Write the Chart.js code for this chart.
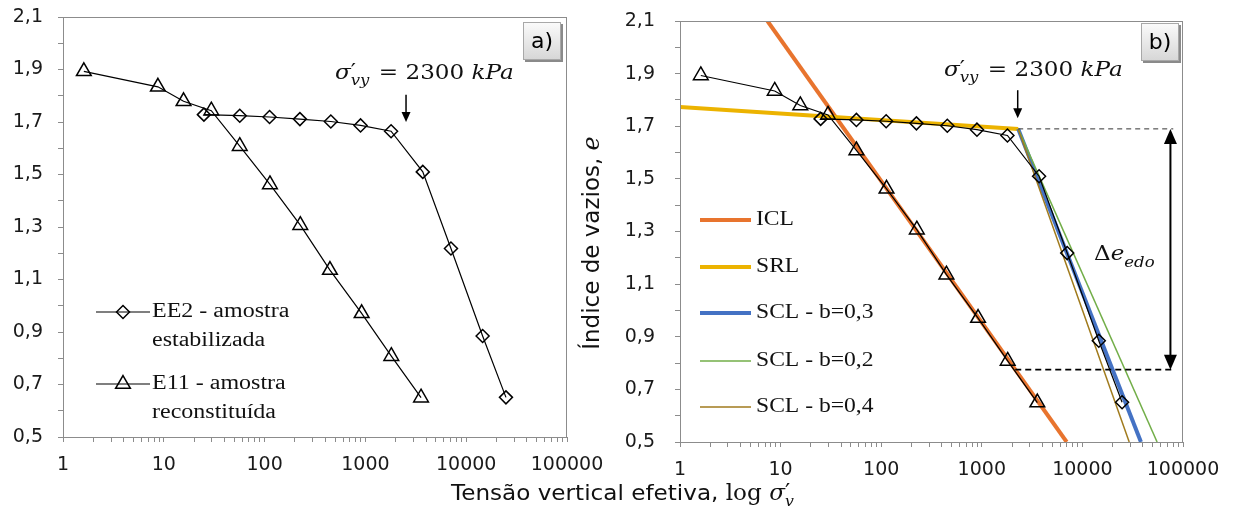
<!DOCTYPE html>
<html><head><meta charset="utf-8">
<script src="https://cdn.jsdelivr.net/npm/chart.js@4.4.1/dist/chart.umd.min.js"></script>
<style>
html,body{margin:0;padding:0;background:#fff;}
#wrap{position:relative;width:1235px;height:511px;overflow:hidden;}
canvas{position:absolute;left:0;top:0;}
</style></head><body>
<div id="wrap">
<canvas id="cb" width="1235" height="511"></canvas>
<canvas id="ca" width="610" height="511"></canvas>
</div>
<script>
// ---------- data ----------
const ee2Stress = [25, 56.7, 112, 224, 454, 895, 1798, 3710, 7060, 14550, 24800];
const ee2Void   = [1.728, 1.724, 1.719, 1.711, 1.702, 1.687, 1.665, 1.51, 1.218, 0.885, 0.651];
const e11Stress = [1.61, 8.74, 15.7, 29.6, 56.7, 113, 226, 445, 918, 1808, 3565];
const e11Void   = [1.893, 1.834, 1.779, 1.743, 1.608, 1.462, 1.307, 1.136, 0.971, 0.808, 0.650];
const iclStress = [7.4, 6980];     const iclVoid = [2.1, 0.5];
const srlStress = [1, 2300];       const srlVoid = [1.773, 1.69];
const scl03Stress = [2300, 38200]; const scl03Void = [1.69, 0.5];
const scl02Stress = [2300, 55300]; const scl02Void = [1.69, 0.5];
const scl04Stress = [2300, 29200]; const scl04Void = [1.69, 0.5];
const dashUpperStress = [2300, 80000]; const dashUpperVoid = [1.69, 1.69];
const dashLowerStress = [2150, 80000]; const dashLowerVoid = [0.775, 0.775];
const deltaArrowStress = 75000; const deltaArrowVoid = [1.69, 0.775];
const yieldArrowA = {stress: 2530, from: 1.804, to: 1.70};
const yieldArrowB = {stress: 2275, from: 1.837, to: 1.73};

// tick labels
const xMajorTicks = [1, 10, 100, 1000, 10000, 100000];
const xMajorLabels = ['1', '10', '100', '1000', '10000', '100000'];
const xMinorSteps = [2, 3, 4, 5, 6, 7, 8, 9];
const yMajorTicks = [0.5, 0.7, 0.9, 1.1, 1.3, 1.5, 1.7, 1.9, 2.1];
const yMajorLabels = ['0,5', '0,7', '0,9', '1,1', '1,3', '1,5', '1,7', '1,9', '2,1'];
const yMinorTicks = [0.6, 0.8, 1.0, 1.2, 1.4, 1.6, 1.8, 2.0];

// legend texts
const legendA = [['EE2 - amostra', 'estabilizada'], ['E11 - amostra', 'reconstituída']];
const legendB = ['ICL', 'SRL', 'SCL - b=0,3', 'SCL - b=0,2', 'SCL - b=0,4'];

// ---------- helpers ----------
const pts = (xs, ys) => xs.map((x, i) => ({x: x, y: ys[i]}));
const xTickValues = [];
xMajorTicks.forEach((d, i) => { xTickValues.push(d); if (i < xMajorTicks.length - 1) xMinorSteps.forEach(m => xTickValues.push(d * m)); });
const xLabelMap = new Map(xMajorTicks.map((v, i) => [v, xMajorLabels[i]]));
const yTickValues = yMajorTicks.concat(yMinorTicks).sort((a, b) => a - b);
const yLabelMap = new Map(yMajorTicks.map((v, i) => [v, yMajorLabels[i]]));

const GRAY = '#8c8c8c';
const TICKFONT = {family: 'DejaVu Sans', size: 19};
const SERIF = '"Liberation Serif", serif';
const MATH = '"DejaVu Serif", serif';

function makeScales(yWidth, yPad) {
  return {
    x: {
      type: 'logarithmic', min: 1, max: 100000,
      afterBuildTicks(s) { s.ticks = xTickValues.map(v => ({value: v})); },
      afterFit(s) { s.height = 40; s.paddingLeft = 0; s.paddingRight = 0; },
      ticks: {autoSkip: false, maxRotation: 0, minRotation: 0, padding: 12, color: '#1a1a1a', font: TICKFONT,
        callback: v => xLabelMap.has(v) ? xLabelMap.get(v) : ''},
      grid: {drawOnChartArea: false, drawTicks: true, tickLength: 5, tickColor: GRAY, tickWidth: 1},
      border: {display: true, color: GRAY, width: 1}
    },
    y: {
      type: 'linear', min: 0.5, max: 2.1,
      afterBuildTicks(s) { s.ticks = yTickValues.map(v => ({value: v})); },
      afterFit(s) { s.width = yWidth; s.paddingTop = 0; s.paddingBottom = 0; },
      ticks: {autoSkip: false, padding: yPad, color: '#1a1a1a', font: TICKFONT,
        callback: v => yLabelMap.has(v) ? yLabelMap.get(v) : ''},
      grid: {drawOnChartArea: false, drawTicks: true, tickLength: 5, tickColor: GRAY, tickWidth: 1},
      border: {display: true, color: GRAY, width: 1}
    }
  };
}

function dataSeries() {
  return [
    {label: 'EE2', data: pts(ee2Stress, ee2Void), showLine: true, borderColor: '#000', borderWidth: 1.2,
     pointStyle: 'rectRot', pointRadius: 6.5, pointBorderWidth: 1.5, pointBorderColor: '#000',
     pointBackgroundColor: 'rgba(0,0,0,0)'},
    {label: 'E11', data: pts(e11Stress, e11Void), showLine: true, borderColor: '#000', borderWidth: 1.2,
     pointStyle: 'triangle', pointRadius: 8.5, pointBorderWidth: 1.5, pointBorderColor: '#000',
     pointBackgroundColor: 'rgba(0,0,0,0)'}
  ];
}

function frame(chart) {
  const a = chart.chartArea, ctx = chart.ctx;
  ctx.save(); ctx.strokeStyle = GRAY; ctx.lineWidth = 1;
  ctx.strokeRect(Math.round(a.left) + 0.5, Math.round(a.top) + 0.5, Math.round(a.right - a.left) - 1, Math.round(a.bottom - a.top));
  ctx.restore();
}

// text stretched horizontally like the reference
function sText(ctx, txt, x, y, font, sx) {
  ctx.save(); ctx.font = font; ctx.translate(x, y); ctx.scale(sx, 1); ctx.fillText(txt, 0, 0);
  const w = ctx.measureText(txt).width * sx; ctx.restore(); return w;
}

function labelBox(ctx, x, y, w, h, txt) {
  ctx.save();
  const g = ctx.createLinearGradient(0, y, 0, y + h);
  g.addColorStop(0, '#fbfbfb'); g.addColorStop(1, '#d6d6d6');
  ctx.fillStyle = '#8a8a8a'; ctx.fillRect(x + 2, y + 2, w, h);
  ctx.fillStyle = g; ctx.fillRect(x, y, w, h);
  ctx.strokeStyle = '#a8a8a8'; ctx.lineWidth = 1; ctx.strokeRect(x + 0.5, y + 0.5, w - 1, h - 1);
  ctx.fillStyle = '#000'; ctx.font = '22px "DejaVu Sans"'; ctx.textAlign = 'center'; ctx.textBaseline = 'middle';
  ctx.fillText(txt, x + w / 2, y + h / 2 + 1);
  ctx.restore();
}

function sigmaText(ctx, x, base, S, sx) {
  ctx.save(); ctx.fillStyle = '#111'; ctx.textBaseline = 'alphabetic'; ctx.textAlign = 'left';
  let cx = x;
  cx += sText(ctx, 'σ', cx, base, 'italic ' + S + 'px ' + MATH, sx);
  const wp = sText(ctx, '′', cx, base - 1, S + 'px ' + MATH, sx);
  const ws = sText(ctx, 'vy', cx, base + S * 0.28, 'italic ' + Math.round(S * 0.72) + 'px ' + MATH, sx);
  cx += Math.max(wp, ws) + 2;
  cx += sText(ctx, ' = 2300 ', cx, base, S + 'px ' + MATH, sx);
  sText(ctx, 'kPa', cx, base, 'italic ' + S + 'px ' + MATH, sx);
  ctx.restore();
}

function downArrow(chart, arr) {
  const ctx = chart.ctx, xs = chart.scales.x, ys = chart.scales.y;
  const x = xs.getPixelForValue(arr.stress), y0 = ys.getPixelForValue(arr.from), y1 = ys.getPixelForValue(arr.to);
  ctx.save(); ctx.strokeStyle = '#000'; ctx.fillStyle = '#000'; ctx.lineWidth = 1.5;
  ctx.beginPath(); ctx.moveTo(x, y0); ctx.lineTo(x, y1 - 8); ctx.stroke();
  ctx.beginPath(); ctx.moveTo(x - 4.5, y1 - 10); ctx.lineTo(x + 4.5, y1 - 10); ctx.lineTo(x, y1); ctx.closePath(); ctx.fill();
  ctx.restore();
}

// ---------- panel a ----------
const annA = {
  id: 'annA',
  afterDraw(chart) {
    const ctx = chart.ctx;
    frame(chart);
    downArrow(chart, yieldArrowA);
    sigmaText(ctx, 335, 79, 21, 1.1);
    labelBox(ctx, 523, 22, 38, 38, 'a)');
    const ds = chart.data.datasets;
    const rows = [{y: 312, d: ds[0]}, {y: 384, d: ds[1]}];
    rows.forEach((r, i) => {
      ctx.save();
      ctx.strokeStyle = '#000'; ctx.lineWidth = 1.2;
      ctx.beginPath(); ctx.moveTo(96, r.y); ctx.lineTo(150, r.y); ctx.stroke();
      ctx.lineWidth = 1.5; ctx.fillStyle = 'rgba(0,0,0,0)';
      Chart.helpers.drawPoint(ctx, {pointStyle: r.d.pointStyle, radius: r.d.pointRadius, rotation: 0, borderWidth: 1.5}, 123, r.y);
      ctx.fillStyle = '#111'; ctx.textBaseline = 'middle'; ctx.textAlign = 'left';
      sText(ctx, legendA[i][0], 152, r.y, '20px ' + SERIF, 1.2);
      sText(ctx, legendA[i][1], 152, r.y + 28.5, '20px ' + SERIF, 1.2);
      ctx.restore();
    });
  }
};

new Chart(document.getElementById('ca'), {
  type: 'scatter',
  data: {datasets: dataSeries()},
  options: {
    responsive: false, animation: false, events: [],
    layout: {padding: {left: 0, top: 17, right: 43, bottom: 34}},
    plugins: {legend: {display: false}, tooltip: {enabled: false}},
    scales: makeScales(63, 15)
  },
  plugins: [annA]
});

// ---------- panel b ----------
const lineDs = (label, xs, ys, color, w, dash) => ({label, data: pts(xs, ys), showLine: true, borderColor: color,
  borderWidth: w, pointRadius: 0, borderDash: dash || [], borderCapStyle: 'butt'});

const dsB = dataSeries().concat([
  lineDs('dashU', dashUpperStress, dashUpperVoid, '#333', 1, [5, 4]),
  lineDs('dashL', dashLowerStress, dashLowerVoid, '#000', 1.8, [6, 4]),
  lineDs('SCL - b=0,4', scl04Stress, scl04Void, '#a07a1c', 1.5),
  lineDs('SCL - b=0,2', scl02Stress, scl02Void, '#72ae48', 1.5),
  lineDs('SCL - b=0,3', scl03Stress, scl03Void, '#4472c4', 4),
  lineDs('SRL', srlStress, srlVoid, '#ecb300', 4),
  lineDs('ICL', iclStress, iclVoid, '#e8742e', 4)
]);

const annB = {
  id: 'annB',
  afterDraw(chart) {
    const ctx = chart.ctx, xs = chart.scales.x, ys = chart.scales.y;
    frame(chart);
    downArrow(chart, yieldArrowB);
    sigmaText(ctx, 944, 76, 21, 1.1);
    labelBox(ctx, 1141, 23, 38, 38, 'b)');
    // double arrow for delta e
    const ax = xs.getPixelForValue(deltaArrowStress);
    const ya = ys.getPixelForValue(deltaArrowVoid[0]), yb = ys.getPixelForValue(deltaArrowVoid[1]);
    ctx.save(); ctx.strokeStyle = '#000'; ctx.fillStyle = '#000'; ctx.lineWidth = 2;
    ctx.beginPath(); ctx.moveTo(ax, ya + 12); ctx.lineTo(ax, yb - 12); ctx.stroke();
    ctx.beginPath(); ctx.moveTo(ax, ya); ctx.lineTo(ax - 6.5, ya + 15); ctx.lineTo(ax + 6.5, ya + 15); ctx.closePath(); ctx.fill();
    ctx.beginPath(); ctx.moveTo(ax, yb); ctx.lineTo(ax - 6.5, yb - 15); ctx.lineTo(ax + 6.5, yb - 15); ctx.closePath(); ctx.fill();
    ctx.fillStyle = '#111'; ctx.textAlign = 'left'; ctx.textBaseline = 'alphabetic';
    let cx = 1094;
    cx += sText(ctx, 'Δ', cx, 260, '21px ' + MATH, 1.1);
    cx += sText(ctx, 'e', cx, 260, 'italic 21px ' + MATH, 1.1);
    sText(ctx, 'edo', cx, 267, 'italic 15px ' + MATH, 1.1);
    ctx.restore();
    // legend
    const byLabel = {}; chart.data.datasets.forEach(d => byLabel[d.label] = d);
    const ly = [220, 267, 313, 361, 407];
    legendB.forEach((t, i) => {
      const d = byLabel[t];
      ctx.save();
      ctx.strokeStyle = d.borderColor; ctx.lineWidth = d.borderWidth;
      ctx.beginPath(); ctx.moveTo(700, ly[i]); ctx.lineTo(751, ly[i]); ctx.stroke();
      ctx.fillStyle = '#111'; ctx.textBaseline = 'middle'; ctx.textAlign = 'left';
      sText(ctx, t, 756, ly[i], '20px ' + SERIF, 1.18);
      ctx.restore();
    });
    // x axis title (shared)
    ctx.save(); ctx.fillStyle = '#111'; ctx.textBaseline = 'alphabetic'; ctx.textAlign = 'left';
    let tx = 451;
    tx += sText(ctx, 'Tensão vertical efetiva, ', tx, 500, '21px "DejaVu Sans"', 1.1);
    tx += sText(ctx, 'log ', tx, 500, '22px ' + MATH, 1.05);
    tx += sText(ctx, 'σ', tx, 500, 'italic 22px ' + MATH, 1.05);
    sText(ctx, '′', tx, 499, '22px ' + MATH, 1.05);
    sText(ctx, 'v', tx, 506, 'italic 15px ' + MATH, 1.05);
    ctx.restore();
    // y axis title (shared)
    ctx.save(); ctx.translate(599, 243); ctx.rotate(-Math.PI / 2);
    ctx.fillStyle = '#111'; ctx.textBaseline = 'alphabetic'; ctx.textAlign = 'left';
    const t2 = 'Índice de vazios, ';
    ctx.font = '23px "DejaVu Sans"'; const w2 = ctx.measureText(t2).width;
    ctx.font = 'italic 24px ' + MATH; const w3 = ctx.measureText('e').width;
    const sx0 = -(w2 + w3) / 2;
    ctx.font = '23px "DejaVu Sans"'; ctx.fillText(t2, sx0, 0);
    ctx.font = 'italic 24px ' + MATH; ctx.fillText('e', sx0 + w2, 0);
    ctx.restore();
  }
};

new Chart(document.getElementById('cb'), {
  type: 'scatter',
  data: {datasets: dsB},
  options: {
    responsive: false, animation: false, events: [],
    layout: {padding: {left: 0, top: 21, right: 52, bottom: 29}},
    plugins: {legend: {display: false}, tooltip: {enabled: false}},
    scales: makeScales(680, 20)
  },
  plugins: [annB]
});
</script>
</body></html>
